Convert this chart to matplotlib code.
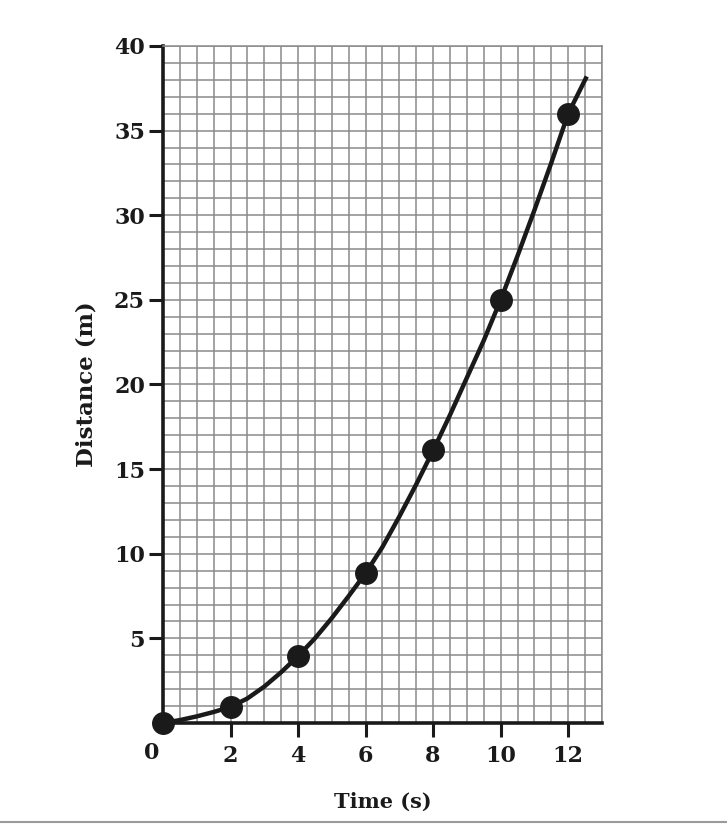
import numpy as np
import matplotlib.pyplot as plt
from matplotlib.ticker import MultipleLocator

# measured points
time_s = [0, 2, 4, 6, 8, 10, 12]
dist_m = [0, 0.95, 3.95, 8.85, 16.1, 25.0, 36.0]

# smooth curve
curve_t = [0, 0.5, 1, 1.5, 2, 2.5, 3, 3.5, 4, 4.5, 5, 5.5, 6, 6.5, 7, 7.5,
           8, 8.5, 9, 9.5, 10, 10.5, 11, 11.5, 12, 12.55]
curve_d = [0, 0.17, 0.39, 0.65, 0.95, 1.45, 2.15, 3.0, 3.95, 5.0, 6.2, 7.5,
           8.85, 10.4, 12.2, 14.1, 16.1, 18.2, 20.4, 22.6, 25.0, 27.6, 30.3,
           33.1, 36.0, 38.2]

x_ticks = [2, 4, 6, 8, 10, 12]
y_ticks = [5, 10, 15, 20, 25, 30, 35, 40]

plt.rcParams['font.family'] = ['DejaVu Serif']
plt.rcParams['font.weight'] = 'bold'

fig = plt.figure(figsize=(7.27, 8.24), dpi=100)
ax = fig.add_axes([0.2242, 0.1226, 0.6038, 0.8216])

ax.set_xlim(0, 13)
ax.set_ylim(0, 40)

# grid paper
ax.xaxis.set_minor_locator(MultipleLocator(0.5))
ax.yaxis.set_minor_locator(MultipleLocator(1))
ax.grid(which='both', color='#8a8a8a', linewidth=1.1)
ax.tick_params(which='minor', length=0)
ax.set_axisbelow(True)

ax.plot(curve_t, curve_d, color='#1a1a1a', linewidth=3.2, solid_capstyle='butt',
        solid_joinstyle='round', zorder=3)
ax.plot(time_s, dist_m, 'o', color='#1a1a1a', markersize=15.5, zorder=4, clip_on=False)

ax.set_xticks(x_ticks)
ax.set_yticks(y_ticks)
ax.tick_params(which='major', direction='out', length=10, width=2.2,
               labelsize=16, color='#1a1a1a', labelcolor='#1a1a1a')
ax.tick_params(axis='x', pad=6)
ax.tick_params(axis='y', pad=3)

for side in ['top', 'right']:
    ax.spines[side].set_color('#8a8a8a')
    ax.spines[side].set_linewidth(1.1)
for side in ['left', 'bottom']:
    ax.spines[side].set_color('#1a1a1a')
    ax.spines[side].set_linewidth(2.6)

ax.text(-0.33, -1.1, '0', ha='center', va='top', fontsize=16,
        fontweight='bold', color='#1a1a1a', clip_on=False)

ax.set_xlabel('Time (s)', fontsize=15, fontweight='bold', color='#1a1a1a', labelpad=18)
ax.set_ylabel('Distance (m)', fontsize=16.5, fontweight='bold', color='#1a1a1a', labelpad=12)

# bottom frame line of the picture
fig.add_artist(plt.Line2D([0, 1], [0.003, 0.003], color='#9a9a9a', linewidth=1.5))

fig.savefig('out.png', dpi=100)
